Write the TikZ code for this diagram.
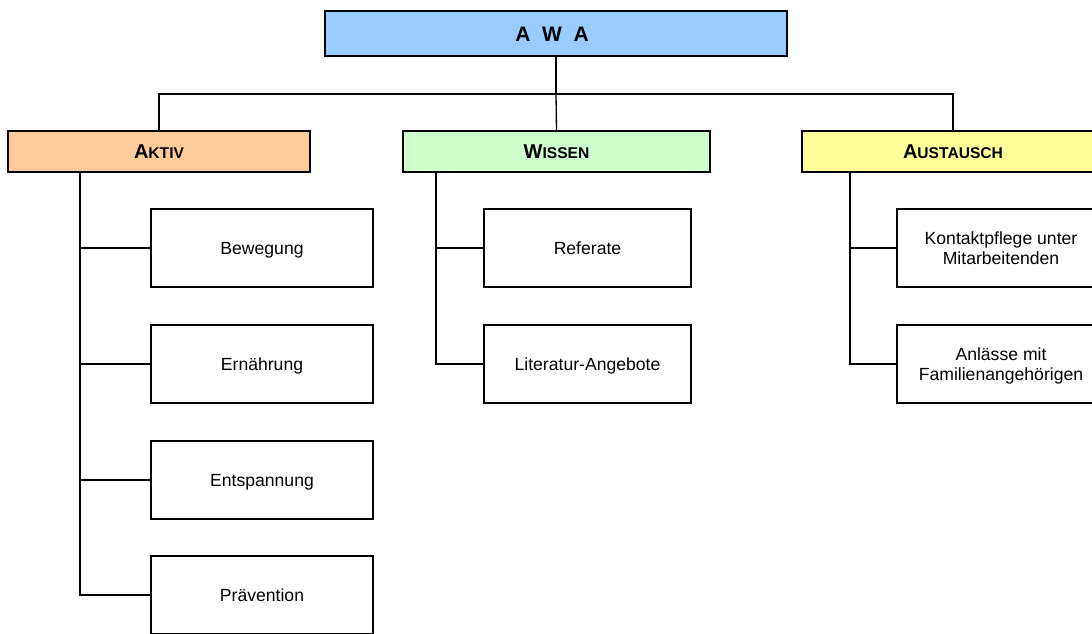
\documentclass[tikz,border=0pt]{standalone}
\usepackage{fontspec}
\setmainfont{Liberation Sans}
\definecolor{awablue}{HTML}{99CCFF}
\definecolor{aktivor}{HTML}{FFCC99}
\definecolor{wissgr}{HTML}{CCFFCC}
\definecolor{austye}{HTML}{FFFF99}
\newcommand{\fakesc}[2]{{\fontsize{20}{24}\selectfont\bfseries #1}{\fontsize{15.6}{18}\selectfont\bfseries #2}}
\begin{document}
\begin{tikzpicture}[x=1pt,y=-1pt,
  every node/.style={inner sep=0pt, outer sep=0pt},
  topbox/.style={draw, line width=1.3pt, fill=awablue, minimum width=462pt, minimum height=45pt},
  topfont/.style={font=\fontsize{21}{24}\selectfont\bfseries, text height=15.2pt, text depth=0pt},
  catbox/.style={draw, line width=1.3pt, minimum height=41pt, text height=14.3pt, text depth=0pt},
  leaf/.style={draw, line width=1.1pt, fill=white, minimum height=78pt, align=center, font=\fontsize{17.6}{19.5}\selectfont, text height=12.6pt, text depth=0pt},
  leaftwo/.style={leaf, text height=32.1pt, text depth=0pt},
  conn/.style={line width=1.3pt}]
\useasboundingbox (0,0) rectangle (1092,633);
\clip (0,0) rectangle (1092,633);
\node[topbox] (awa) at (556,33.5) {};
\node[topfont] (awat) at (552,33.5) {A\ \ W\ \ A};
\node[catbox, fill=aktivor, minimum width=302pt] (aktiv) at (159,151.5) {\fakesc{A}{KTIV}};
\node[catbox, fill=wissgr, minimum width=307pt] (wissen) at (556.5,151.5) {\fakesc{W}{ISSEN}};
\node[catbox, fill=austye, minimum width=302pt] (austausch) at (953,151.5) {\fakesc{A}{USTAUSCH}};
\coordinate (bus) at (556,94);
\draw[conn] (awa.south) -- (bus);
\draw[conn] (bus) -| (aktiv.north);
\draw[conn] (bus) -| (austausch.north);
\draw[conn] (bus) -- (wissen.north);
% Aktiv children
\node[leaf, minimum width=222pt] (bew) at (262,248) {Bewegung};
\node[leaf, minimum width=222pt] (ern) at (262,364) {Ernährung};
\node[leaf, minimum width=222pt] (ent) at (262,480) {Entspannung};
\node[leaf, minimum width=222pt] (pra) at (262,595) {Prävention};
\coordinate (akt) at (80,172);
\draw[conn] (akt) |- (pra.west);
\draw[conn] (akt |- bew.west) -- (bew.west);
\draw[conn] (akt |- ern.west) -- (ern.west);
\draw[conn] (akt |- ent.west) -- (ent.west);
% Wissen children
\node[leaf, minimum width=207pt] (ref) at (587.5,248) {Referate};
\node[leaf, minimum width=207pt] (lit) at (587.5,364) {Literatur-Angebote};
\coordinate (wst) at (436,172);
\draw[conn] (wst) |- (lit.west);
\draw[conn] (wst |- ref.west) -- (ref.west);
% Austausch children
\node[leaftwo, minimum width=208pt] (kon) at (1001,248) {Kontaktpflege unter\\Mitarbeitenden};
\node[leaftwo, minimum width=208pt] (anl) at (1001,364) {Anlässe mit\\Familienangehörigen};
\coordinate (aus) at (850,172);
\draw[conn] (aus) |- (anl.west);
\draw[conn] (aus |- kon.west) -- (kon.west);
\end{tikzpicture}
\end{document}
